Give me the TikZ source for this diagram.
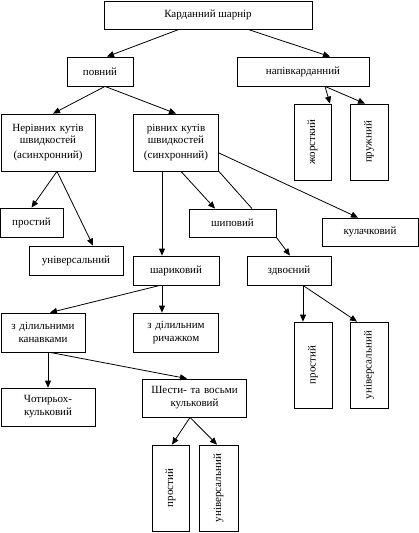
\documentclass[tikz,border=0pt]{standalone}
\usepackage{fontspec}
\setmainfont{Liberation Serif}
\usepackage{graphicx}
\usetikzlibrary{arrows.meta}
\tikzset{
  box/.style={draw, line width=0.8pt, inner sep=0pt, font=\fontsize{11}{13}\selectfont},
  mbox/.style={box, align=center, text width=#1},
  arr/.style={line width=0.8pt, -{Triangle[length=7pt,width=6pt]}},
  ln/.style={line width=0.8pt},
}
\newcommand{\vt}[1]{\rotatebox{90}{#1}}
\begin{document}
\begin{tikzpicture}[x=1pt,y=-1pt]
\useasboundingbox[fill=white] (0,0) rectangle (419,533);
\node[box, minimum width=208pt, minimum height=28pt] (top) at (208,15) {Карданний шарнір};
\node[box, minimum width=66pt, minimum height=29pt] (povn) at (100,71.5) {повний};
\node[box, minimum width=132pt, minimum height=29pt] (napiv) at (303,71.5) {напівкарданний};
\node[mbox=94pt, minimum height=57pt] (neriv) at (48,142.5) {Нерівних кутів\\[-1pt] швидкостей\\[2pt] (асинхронний)};
\node[mbox=85pt, minimum height=57pt] (riv) at (176,142.5) {рівних кутів\\[-1pt] швидкостей\\[2pt] (синхронний)};
\node[box, minimum width=37pt, minimum height=76pt] (zhor) at (312.5,142) {\vt{жорсткий}};
\node[box, minimum width=38pt, minimum height=76pt] (pruzh) at (369,142) {\vt{пружний}};
\node[box, minimum width=63pt, minimum height=29pt] (prost1) at (31.5,222.5) {простий};
\node[box, minimum width=94pt, minimum height=29pt] (univ1) at (76,260.5) {універсальний};
\node[box, minimum width=87pt, minimum height=28pt] (ship) at (232.5,223) {шиповий};
\node[box, minimum width=96pt, minimum height=28pt] (kul) at (370,232) {кулачковий};
\node[box, minimum width=86pt, minimum height=29pt] (shar) at (176,270.5) {шариковий};
\node[box, minimum width=84pt, minimum height=29pt] (zdv) at (289,270.5) {здвоєний};
\node[mbox=84pt, minimum height=39pt] (kan) at (43,332.5) {з ділильними\\ канавками};
\node[mbox=85pt, minimum height=39pt] (rych) at (176,332.5) {з ділильним\\ ричажком};
\node[box, minimum width=38pt, minimum height=86pt] (prost2) at (313,365) {\vt{простий}};
\node[box, minimum width=38pt, minimum height=86pt] (univ2) at (369,365) {\vt{універсальний}};
\node[mbox=94pt, minimum height=38pt] (chot) at (48,407) {Чотирьох-\\ кульковий};
\node[mbox=104pt, minimum height=38pt] (shest) at (194.5,398) {Шести- та восьми\\ кульковий};
\node[box, minimum width=37pt, minimum height=86pt] (prost3) at (170.5,488) {\vt{простий}};
\node[box, minimum width=39pt, minimum height=86pt] (univ3) at (218.5,488) {\vt{універсальний}};

\draw[arr] ([xshift=-29pt]top.south) -- ([xshift=7pt]povn.north);
\draw[arr] ([xshift=40pt]top.south) -- ([xshift=27pt]napiv.north);
\draw[arr] ([xshift=5pt]povn.south) -- ([xshift=5pt]neriv.north);
\draw[arr] ([xshift=5pt]povn.south) -- (riv.north);
\draw[arr] ([xshift=22pt]napiv.south) -- ([xshift=17.5pt]zhor.north);
\draw[arr] ([xshift=22pt]napiv.south) -- ([xshift=-4pt]pruzh.north);
\draw[arr] ([xshift=9pt]neriv.south) -- (prost1.north);
\draw[arr] ([xshift=9pt]neriv.south) -- ([xshift=17pt]univ1.north);
\draw[arr] ([xshift=-14pt]riv.south) -- ([xshift=-14pt]shar.north);
\draw[arr] ([xshift=5pt]riv.south) -- ([xshift=-17.5pt]ship.north);
\draw[ln] (riv.south east) -- ([xshift=19.5pt]ship.north);
\draw[arr] ([yshift=-10.5pt]riv.east) -- ([xshift=-12pt]kul.north);
\draw[arr] (ship.south east) -- ([xshift=1pt]zdv.north);
\draw[arr] ([xshift=-14pt]shar.south) -- ([xshift=-14pt]rych.north);
\draw[arr] ([xshift=-16pt]shar.south) -- ([xshift=7pt]kan.north);
\draw[arr] ([xshift=14pt]zdv.south) -- ([xshift=-10pt]prost2.north);
\draw[arr] ([xshift=14pt]zdv.south) -- ([xshift=-12pt]univ2.north);
\draw[arr] ([xshift=5pt]kan.south) -- (chot.north);
\draw[arr] ([xshift=7pt]kan.south) -- ([xshift=-7.5pt]shest.north);
\draw[arr] ([xshift=-4.5pt]shest.south) -- ([xshift=1.5pt]prost3.north);
\draw[arr] ([xshift=-4.5pt]shest.south) -- ([xshift=-1.5pt]univ3.north);
\end{tikzpicture}
\end{document}
